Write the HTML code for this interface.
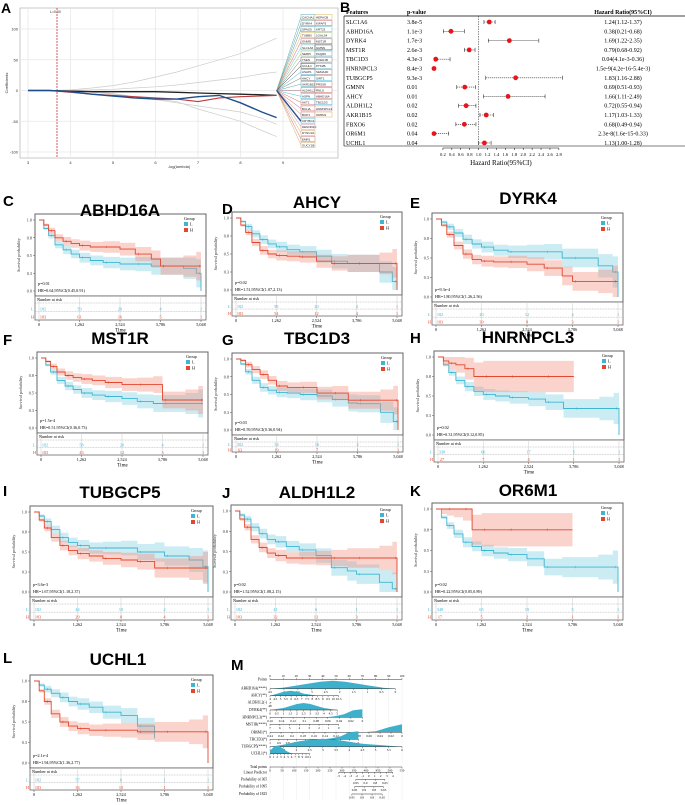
<!DOCTYPE html>
<html><head><meta charset="utf-8">
<style>
html,body{margin:0;padding:0;background:#fff;}
svg{display:block;font-family:"Liberation Sans",Arial,sans-serif;}
.serif{font-family:"Liberation Serif","Times New Roman",serif;}
</style></head>
<body>
<svg id="fig" width="685" height="805" viewBox="0 0 685 805" xmlns="http://www.w3.org/2000/svg"></svg>
<script>
// ---------------- DATA ----------------
const kmTimes = [0,150,300,500,750,1000,1262,1600,2000,2524,3000,3500,3786,4500,4900,5048];
const kmTickLabels = ["0","1,262","2,524","3,786","5,048"];
const kmTickValues = [0,1262,2524,3786,5048];
const kmYTicks = [1.0,0.75,0.5,0.25,0.0];
const kmYTickLabels = ["1.0","0.8","0.5","0.3","0.0"];

const abhd16aH = [1,.93,.85,.75,.70,.67,.64,.62,.62,.59,.52,.45,.35,.35,.35,.35];
const abhd16aL = [1,.88,.78,.65,.58,.52,.47,.43,.40,.38,.38,.35,.35,.32,.25,0];
const ahcyH = [1,.9,.8,.66,.55,.50,.48,.47,.46,.40,.37,.37,.37,.37,.37,0];
const ahcyL = [1,.95,.88,.78,.70,.64,.60,.56,.53,.47,.40,.37,.37,.25,.12,.05];
const dyrk4H = [1,.92,.8,.66,.55,.48,.46,.45,.45,.42,.37,.27,.2,.2,.2,.2];
const dyrk4L = [1,.96,.9,.82,.74,.68,.64,.6,.58,.58,.58,.5,.5,.4,.32,0];
const mst1rH = [1,.95,.88,.8,.75,.72,.70,.68,.65,.62,.62,.62,.40,.40,.40,.40];
const mst1rL = [1,.9,.8,.68,.6,.55,.5,.47,.45,.42,.38,.35,.35,.35,.35,.35];
const tbc1d3H = [1,.98,.92,.85,.78,.70,.62,.60,.60,.52,.52,.42,.42,.42,.42,0];
const tbc1d3L = [1,.93,.82,.7,.6,.56,.53,.52,.5,.48,.43,.38,.37,.25,.12,.07];
const hnrnpcl3H = [1,.95,.92,.9,.85,.75,.75,.75,.75,.75,.75,.75,.75,null,null,null];
const hnrnpcl3L = [1,.9,.8,.7,.62,.56,.52,.5,.48,.46,.42,.34,.34,.34,.34,0];
const tubgcp5H = [1,.9,.8,.68,.58,.52,.48,.45,.42,.40,.38,.30,.30,.30,.30,.30];
const tubgcp5L = [1,.95,.88,.78,.68,.62,.58,.55,.55,.55,.50,.50,.45,.40,.32,0];
const aldh1l2H = [1,.9,.8,.65,.55,.48,.45,.42,.42,.42,.42,.42,.42,.42,.42,0];
const aldh1l2L = [1,.95,.9,.8,.72,.65,.62,.56,.52,.45,.30,.26,.22,.12,.04,0];
const or6m1H = [1,1,1,1,1,.75,.75,.75,.75,.75,.75,.75,.75,null,null,null];
const or6m1L = [1,.9,.8,.7,.6,.55,.5,.47,.45,.4,.3,.3,.3,.3,.3,0];
const uchl1H = [1,.88,.75,.6,.5,.45,.42,.4,.4,.4,.38,.38,.38,.38,.38,0];
const uchl1L = [1,.95,.9,.85,.8,.75,.72,.68,.62,.58,.45,.3,null,null,null,null];
const ciHalfNarrow = [0,.02,.04,.05,.06,.06,.07,.07,.08,.09,.1,.12,.12,.15,.2,.25];
const ciHalfWide = [0,.06,.08,.1,.14,.18,.2,.2,.2,.2,.2,.2,.2,.2,.2,.2];

// forest plot
const forestGenes = ["SLC1A6","ABHD16A","DYRK4","MST1R","TBC1D3","HNRNPCL3","TUBGCP5","GMNN","AHCY","ALDH1L2","AKR1B15","FBXO6","OR6M1","UCHL1"];
const forestP = ["3.8e-5","1.1e-3","1.7e-3","2.6e-3","4.3e-3","8.4e-3","9.3e-3","0.01","0.01","0.02","0.02","0.02","0.04","0.04"];
const forestHR = [1.24,0.38,1.69,0.79,0.04,0.0,1.83,0.69,1.66,0.72,1.17,0.68,0.0,1.13];
const forestLo = [1.12,0.21,1.22,0.68,0.004,0.0,1.16,0.51,1.11,0.55,1.03,0.49,0.0,1.00];
const forestHi = [1.37,0.68,2.35,0.92,0.36,0.005,2.88,0.93,2.49,0.94,1.33,0.94,0.33,1.28];
const forestText = ["1.24(1.12-1.37)","0.38(0.21-0.68)","1.69(1.22-2.35)","0.79(0.68-0.92)","0.04(4.1e-3-0.36)","1.5e-9(4.2e-16-5.4e-3)","1.83(1.16-2.88)","0.69(0.51-0.93)","1.66(1.11-2.49)","0.72(0.55-0.94)","1.17(1.03-1.33)","0.68(0.49-0.94)","2.3e-8(1.6e-15-0.33)","1.13(1.00-1.28)"];
const forestTicks = [0.2,0.4,0.6,0.8,1.0,1.2,1.4,1.6,1.8,2.0,2.2,2.4,2.6,2.8];

// lasso
const lassoX = [3,3.5,4,4.5,5,5.5,6,6.5,7,7.5,8,8.5,8.85];
const lassoBlue = [0,0,-2,-6,-9,-12,-14,-14,-10,-8,-20,-35,-44];
const lassoRed = [0,0,-3,-6,-8,-10,-12,-14,-18,-12,-10,-9,-8];
const lassoBlack = [0,0,-1,-2,-2,-2,-2,-3,-4,-5,-6,-7,-8];
const lassoGrayUp1 = [0,0,1,4,8,14,22,30,40,50,60,75,85];
const lassoGrayUp2 = [0,0,0,1,2,4,6,9,13,17,21,27,30];
const lassoGrayDn1 = [0,0,0,-2,-5,-10,-14,-18,-30,-40,-50,-65,-75];
const lassoGrayDn2 = [0,0,-1,-3,-6,-10,-15,-20,-25,-30,-35,-45,-55];
const lassoXTicks = [3,4,5,6,7,8,9];
const lassoYTicks = [100,50,0,-50,-100];
const lassoLabelsLeft = ["CACNA1","DYRK4","SPAG5","TUBB3","GNMD","SLC1A6","SERPI","TSEN","UCHL1","ASAP1","AHCY","AKR1B15","ALDH1L2","ASPN","AKT1","BCL2L","BOP1","CRYBG3","DENND2C","DYNC1I1","EMR1","GUCY1B"];
const lassoLabelsRight = ["HEPACB","KIFAP3","KRT23","LGALS4","MST1R","GMNN","PAQR6","PCED1B","PTK2B","SEMA4D","SIRT1","PRSS8","RNLS","ABHD16A","TBC1D3","HNRNPCL3","OR6M1","","","","",""];
const lassoLabelColors = ["#6ab","#6a9","#59b","#db5","#c66","#6bc","#9b7","#777","#333","#4ac","#777","#5ab","#a77","#4bd","#c77","#c66","#c77","#4ac","#c9a","#da6","#c77","#da6"];

// nomogram
const nomoRows = ["Points","ABHD16A(****)","AHCY(**)","ALDH1L2(-)","DYRK4(**)","HNRNPCL3(**)","MST1R(****)","OR6M1(*)","TBC1D3(*)","TUBGCP5(****)","UCHL1(*)","Total points","Linear Predictor","Probability of 365","Probability of 1095","Probability of 1825"];
const nomoTickLabels = [
 ["0","10","20","30","40","50","60","70","80","90","100"],
 ["4.5","4","3.5","3","2.5","2","1.5","1","0.5","0"],
 ["4","4.5","5","5.5","6","6.5","7","7.5","8","8.5","9","9.5","10","10.5"],
 ["48"],
 ["0","0.5","1","1.5","2","2.5","3","3.5","4","4.5","5"],
 ["0.16","0.14","0.12","0.1","0.08","0.06","0.04","0.02","0"],
 ["7","6","5","4","3","2","1","0"],
 ["0.24","0.22","0.2","0.18","0.16","0.14","0.12","0.1","0.08","0.06","0.04","0.02","0"],
 ["1","0.9","0.8","0.7","0.6","0.5","0.4","0.3","0.2","0.1","0"],
 ["1","1.5","2","2.5","3","3.5","4","4.5","5","5.5","6"],
 ["0","1","2","3","4","5","6","7","8","9","10","11"],
 ["0","50","100","150","200","250","300","350","400","450","500","550"],
 ["-5","-4","-3","-2","-1","0","1","2","3","4"],
 ["0.95","0.9","0.8","0.65"],
 ["0.95","0.9","0.8","0.65"],
 ["0.95","0.9","0.8","0.65"]];
const nomoStartPts = [0,0,0,0,0,0,0,0,0,0,0,0,52,65,64,62];
const nomoEndPts = [100,95,52,1,51,70,52,100,67,100,30,100,93,87,86,85];
const nomoHumps = [null,[0,1,3,5,7,8,7,5,3,1,0],[0,2,4,5,4,2,1,0,0,0,0],null,[0,1,2,4,6,7,6,4,2,1,0],[0,0,0,0,0,0,0,1,3,7,8],null,[0,0,0,0,0,0,0,0,1,5,8],[0,0,0,0,0,0,0,1,3,7,8],[0,2,5,7,8,7,5,3,2,1,0],[3,7,8,6,3,1,0,0,0,0,0]];

// ---------------- HELPERS ----------------
const NS='http://www.w3.org/2000/svg';
const svg=document.getElementById('fig');
function el(tag,attrs,parent,text){const e=document.createElementNS(NS,tag);for(const k in attrs)e.setAttribute(k,attrs[k]);if(text!=null)e.textContent=text;(parent||svg).appendChild(e);return e;}
const CY='#3fb5d1', RD='#e2482f';

// ---------------- PANEL A: LASSO ----------------
(function(){
 const g=el('g',{});
 
 
 const L=el('text',{x:1,y:13,'font-size':14,'font-weight':'bold'},g,'A');
 
 
 const x0=20,x1=338,yt=8,yb=158;
 const sx=v=>28+(v-3)*42.5, sy=v=>90.5-v*0.615;
 el('rect',{x:x0,y:yt,width:x1-x0,height:yb-yt,fill:'#fff',stroke:'#bbb','stroke-width':0.8},g);
 lassoXTicks.forEach(t=>{el('line',{x1:sx(t),x2:sx(t),y1:yt,y2:yb,stroke:'#e6e6e6','stroke-width':0.7},g);
  el('text',{x:sx(t),y:yb+6,'font-size':4,'text-anchor':'middle',fill:'#333'},g,String(t));});
 lassoYTicks.forEach(t=>{el('line',{x1:x0,x2:x1,y1:sy(t),y2:sy(t),stroke:'#e6e6e6','stroke-width':0.7},g);
  el('text',{x:x0-2,y:sy(t)+1.5,'font-size':4,'text-anchor':'end',fill:'#333'},g,String(t));});
 el('text',{x:(x0+x1)/2,y:yb+10,'font-size':4,'text-anchor':'middle',fill:'#333'},g,'-log(lambda)');
 el('text',{x:8,y:(yt+yb)/2,'font-size':4,'text-anchor':'middle',fill:'#333',transform:`rotate(-90 8 ${(yt+yb)/2})`},g,'Coefficients');
 const vl=el('line',{x1:57,x2:57,y1:yt,y2:yb,stroke:'#c33','stroke-width':0.8,'stroke-dasharray':'2,1'},g);
 
 
 el('text',{x:50,y:yt+5,'font-size':3.5,fill:'#333'},g,'L=0.00');
 const fx=sx(8.85), fy=sy(0);
 lassoLabelsLeft.forEach((lab,i)=>{
  const y=17+i*6.1;
  el('line',{x1:fx,y1:fy,x2:301,y2:y,stroke:lassoLabelColors[i],'stroke-width':0.5},g);
  el('rect',{x:301,y:y-2.6,width:14,height:5,fill:'#fff',stroke:lassoLabelColors[i],'stroke-width':0.5},g);
  el('text',{x:302,y:y+1.3,'font-size':3,fill:'#222'},g,lab);
  if(lassoLabelsRight[i]){el('rect',{x:315,y:y-2.6,width:17,height:5,fill:'#fff',stroke:lassoLabelColors[(i+3)%22],'stroke-width':0.5},g);
  el('text',{x:316,y:y+1.3,'font-size':3,fill:'#222'},g,lassoLabelsRight[i]);}
 });
 function line(arr,col,w,name){const d=arr.map((v,i)=>(i?'L':'M')+sx(lassoX[i]).toFixed(1)+' '+sy(v).toFixed(1)).join(' ');
  const p=el('path',{d,fill:'none',stroke:col,'stroke-width':w},g);
  
  }
 line(lassoGrayUp1,'#ccc',0.7,'coef-path-gray-1');
 line(lassoGrayUp2,'#ccc',0.7,'coef-path-gray-2');
 line(lassoGrayDn1,'#ccc',0.7,'coef-path-gray-3');
 line(lassoGrayDn2,'#ccc',0.7,'coef-path-gray-4');
 line(lassoBlack,'#222',1.3,'coef-path-black');
 line(lassoRed,'#c0393b',1.1,'coef-path-red');
 line(lassoBlue,'#1f4e8c',1.4,'coef-path-blue');
 el('line',{x1:fx,y1:fy,x2:301,y2:sy(-50),stroke:'#1f4e8c','stroke-width':1.4},g);
})();

// ---------------- PANEL B: FOREST ----------------
(function(){
 const g=el('g',{});
 
 
 const L=el('text',{x:340,y:12,'font-size':14,'font-weight':'bold'},g,'B');
 
 
 const sx=v=>434+v*44.6;
 const hdr=[['Features',346],['p-value',407]];
 hdr.forEach(h=>el('text',{x:h[1],y:14,'font-size':6,'font-weight':'bold',class:'serif'},g,h[0]));
 el('text',{x:623,y:14,'font-size':6,'font-weight':'bold','text-anchor':'middle',class:'serif'},g,'Hazard Ratio(95%CI)');
 el('line',{x1:344,x2:685,y1:16,y2:16,stroke:'#000','stroke-width':0.8},g);
 el('line',{x1:344,x2:344,y1:16,y2:146,stroke:'#000','stroke-width':0.6},g);
 el('line',{x1:344,x2:685,y1:146,y2:146,stroke:'#000','stroke-width':0.6},g);
 el('line',{x1:sx(1),x2:sx(1),y1:16,y2:146,stroke:'#444','stroke-width':0.6,'stroke-dasharray':'1.5,1'},g);
 forestGenes.forEach((gn,i)=>{
  const y=22+i*9.3;
  el('text',{x:346,y:y+2,'font-size':6,class:'serif'},g,gn);
  el('text',{x:407,y:y+2,'font-size':6,class:'serif'},g,forestP[i]);
  el('text',{x:623,y:y+2,'font-size':6,'text-anchor':'middle',class:'serif'},g,forestText[i]);
  const a=sx(forestLo[i]),b=sx(forestHi[i]);
  const ci=el('line',{x1:a,x2:b,y1:y,y2:y,stroke:'#333','stroke-width':0.6,'stroke-dasharray':'1.2,0.8'},g);
  
  
  el('line',{x1:a,x2:a,y1:y-2,y2:y+2,stroke:'#333','stroke-width':0.6},g);
  el('line',{x1:b,x2:b,y1:y-2,y2:y+2,stroke:'#333','stroke-width':0.6},g);
  const d=el('circle',{cx:sx(forestHR[i]),cy:y,r:2.4,fill:'#e8141b'},g);
  
  
 });
 el('line',{x1:sx(0.2),x2:sx(2.8),y1:148,y2:148,stroke:'#000','stroke-width':0.5},g);
 forestTicks.forEach(t=>{el('line',{x1:sx(t),x2:sx(t),y1:148,y2:150,stroke:'#000','stroke-width':0.5},g);
  el('text',{x:sx(t),y:156,'font-size':4.6,'text-anchor':'middle',class:'serif'},g,t.toFixed(1));});
 const xt=el('text',{x:sx(1.5),y:165,'font-size':7,'text-anchor':'middle',class:'serif'},g,'Hazard Ratio(95%CI)');
 
 
})();

// ---------------- KM PANELS ----------------
const kmPanels=[
 {letter:'C',title:'ABHD16A',lx:3,ly:206,tx:120,ty:216,x0:35,x1:206,yt:214,yb:296,yr:320,H:abhd16aH,L:abhd16aL,p:'p=0.01',hr:'HR=0.64,95%CI(0.45,0.91)',nL:['182','59','20','4','1'],nH:['183','61','16','5','1']},
 {letter:'D',title:'AHCY',lx:222,ly:214,tx:317,ty:208,x0:232,x1:402,yt:212,yb:295,yr:316,H:ahcyH,L:ahcyL,p:'p=0.02',hr:'HR=1.51,95%CI(1.07,2.13)',nL:['182','59','20','4','1'],nH:['183','54','12','4','1']},
 {letter:'E',title:'DYRK4',lx:410,ly:208,tx:528,ty:204,x0:432,x1:623,yt:213,yb:302,yr:325,H:dyrk4H,L:dyrk4L,p:'p=9.3e-4',hr:'HR=1.80,95%CI(1.26,2.56)',nL:['182','20','12','4','1'],nH:['183','39','8','3','1']},
 {letter:'F',title:'MST1R',lx:3,ly:345,tx:120,ty:344,x0:37,x1:208,yt:352,yb:433,yr:455,H:mst1rH,L:mst1rL,p:'p=1.5e-4',hr:'HR=0.51,95%CI(0.36,0.73)',nL:['182','58','20','4','1'],nH:['183','43','12','3','1']},
 {letter:'G',title:'TBC1D3',lx:222,ly:345,tx:317,ty:344,x0:232,x1:403,yt:353,yb:435,yr:452,H:tbc1d3H,L:tbc1d3L,p:'p=0.03',hr:'HR=0.59,95%CI(0.36,0.94)',nL:['302','54','16','4','1'],nH:['63','19','7','1','1']},
 {letter:'H',title:'HNRNPCL3',lx:410,ly:343,tx:528,ty:343,x0:434,x1:624,yt:351,yb:440,yr:462,H:hnrnpcl3H,L:hnrnpcl3L,p:'p=0.02',hr:'HR=0.31,95%CI(0.12,0.85)',nL:['338','66','17','5','1'],nH:['27','7','4','1','1'],wideH:true},
 {letter:'I',title:'TUBGCP5',lx:3,ly:496,tx:120,ty:498,x0:30,x1:213,yt:506,yb:597,yr:620,H:tubgcp5H,L:tubgcp5L,p:'p=3.6e-3',hr:'HR=1.67,95%CI(1.18,2.37)',nL:['182','44','10','2','1'],nH:['183','29','8','4','1']},
 {letter:'J',title:'ALDH1L2',lx:222,ly:498,tx:317,ty:498,x0:231,x1:402,yt:505,yb:597,yr:620,H:aldh1l2H,L:aldh1l2L,p:'p=0.02',hr:'HR=1.52,95%CI(1.08,2.15)',nL:['182','41','6','1','1'],nH:['183','32','13','3','1']},
 {letter:'K',title:'OR6M1',lx:410,ly:496,tx:528,ty:496,x0:432,x1:623,yt:503,yb:597,yr:620,H:or6m1H,L:or6m1L,p:'p=0.02',hr:'HR=0.22,95%CI(0.05,0.89)',nL:['348','65','19','5','1'],nH:['17','5','2','1','1'],wideH:true},
 {letter:'L',title:'UCHL1',lx:3,ly:663,tx:118,ty:665,x0:30,x1:213,yt:675,yb:768,yr:790,H:uchl1H,L:uchl1L,p:'p=2.1e-4',hr:'HR=1.94,95%CI(1.36,2.77)',nL:['182','57','6','1','1'],nH:['183','36','10','1','1']}
];

kmPanels.forEach(P=>{
 const g=el('g',{});
 
 
 const lt=el('text',{x:P.lx,y:P.ly,'font-size':15,'font-weight':'bold'},g,P.letter);
 
 
 const dx0=P.x0+4, dx1=P.x1-5, dy1=P.yt+6, dy0=P.yb-5;
 const sx=t=>dx0+t/5048*(dx1-dx0), sy=v=>dy0-v*(dy0-dy1);
 el('rect',{x:P.x0,y:P.yt,width:P.x1-P.x0,height:P.yb-P.yt,fill:'#fff',stroke:'#666','stroke-width':1},g);
 const tt=el('text',{x:P.tx,y:P.ty,'font-size':17,'font-weight':'bold','text-anchor':'middle'},g,P.title);
 
 
 kmYTicks.forEach((t,i)=>{el('line',{x1:P.x0-2,x2:P.x0,y1:sy(t),y2:sy(t),stroke:'#555','stroke-width':0.5},g);
  el('text',{x:P.x0-3,y:sy(t)+1.5,'font-size':4.2,'text-anchor':'end',fill:'#333',class:'serif'},g,kmYTickLabels[i]);});
 const ym=(P.yt+P.yb)/2;
 el('text',{x:P.x0-15,y:ym,'font-size':4.2,'text-anchor':'middle',fill:'#333',class:'serif',transform:`rotate(-90 ${P.x0-15} ${ym})`},g,'Survival probability');
 function series(arr,col,fill,ci,name){
  let n=arr.findIndex(v=>v===null); if(n<0)n=arr.length;
  let up='',lo=[];
  for(let i=0;i<n;i++){
   const u=Math.min(1,arr[i]+ci[i]), l=Math.max(0,arr[i]-ci[i]);
   const xa=sx(kmTimes[i]).toFixed(1), xb=(i+1<n?sx(kmTimes[i+1]):sx(kmTimes[i])).toFixed(1);
   up+=(i?'L':'M')+xa+' '+sy(u).toFixed(1)+' L'+xb+' '+sy(u).toFixed(1)+' ';
   lo.unshift('L'+xb+' '+sy(l).toFixed(1)+' L'+xa+' '+sy(l).toFixed(1));
  }
  const b=el('path',{d:up+lo.join(' ')+' Z',fill:fill,stroke:'none'},g);
  
  
  let d='M'+sx(kmTimes[0]).toFixed(1)+' '+sy(arr[0]).toFixed(1);
  for(let i=1;i<n;i++){d+=' H'+sx(kmTimes[i]).toFixed(1)+' V'+sy(arr[i]).toFixed(1);}
  const p=el('path',{d,fill:'none',stroke:col,'stroke-width':0.9},g);
  
  
  for(let i=2;i<n-1;i+=2){el('path',{d:`M${(sx(kmTimes[i])+3).toFixed(1)} ${(sy(arr[i])-1.2).toFixed(1)} v2.4`,stroke:col,'stroke-width':0.5},g);}
 }
 series(P.L,CY,'rgba(120,205,225,0.38)',ciHalfNarrow,'group-l');
 series(P.H,RD,'rgba(242,140,120,0.38)',P.wideH?ciHalfWide:ciHalfNarrow,'group-h');
 const lgx=P.x1-22, lgy=P.yt+6;
 const lg=el('g',{},g);
 
 
 el('text',{x:lgx,y:lgy,'font-size':4.2,class:'serif'},lg,'Group');
 el('rect',{x:lgx,y:lgy+2,width:4,height:4,fill:CY},lg);
 el('text',{x:lgx+6,y:lgy+5.5,'font-size':4.2,class:'serif'},lg,'L');
 el('rect',{x:lgx,y:lgy+8,width:4,height:4,fill:RD},lg);
 el('text',{x:lgx+6,y:lgy+11.5,'font-size':4.2,class:'serif'},lg,'H');
 el('text',{x:P.x0+3,y:P.yb-11,'font-size':4.2,class:'serif'},g,P.p);
 el('text',{x:P.x0+3,y:P.yb-4,'font-size':4.2,class:'serif'},g,P.hr);
 const rt=el('g',{},g);
 
 
 el('rect',{x:P.x0,y:P.yb,width:P.x1-P.x0,height:P.yr-P.yb,fill:'#fff',stroke:'#666','stroke-width':0.8},rt);
 kmTickValues.forEach(t=>el('line',{x1:sx(t),x2:sx(t),y1:P.yb,y2:P.yr,stroke:'#ccc','stroke-width':0.5},rt));
 const h=P.yr-P.yb, r1=P.yb+h*0.55, r2=P.yb+h*0.88;
 el('text',{x:P.x0+2,y:P.yb+5,'font-size':4.2,class:'serif'},rt,'Number at risk');
 el('line',{x1:P.x0,x2:P.x1,y1:P.yb+7,y2:P.yb+7,stroke:'#999','stroke-width':0.4,'stroke-dasharray':'1,0.6'},rt);
 el('line',{x1:P.x0,x2:P.x1,y1:r1+2.5,y2:r1+2.5,stroke:'#999','stroke-width':0.4,'stroke-dasharray':'1,0.6'},rt);
 el('text',{x:P.x0-4,y:r1+1.5,'font-size':4.2,fill:CY,class:'serif'},rt,'L');
 el('text',{x:P.x0-4,y:r2+1.5,'font-size':4.2,fill:RD,class:'serif'},rt,'H');
 kmTickValues.forEach((t,i)=>{
  el('text',{x:sx(t)+(i===0?4:0),y:r1+1.5,'font-size':4.2,fill:CY,'text-anchor':'middle',class:'serif'},rt,P.nL[i]);
  el('text',{x:sx(t)+(i===0?4:0),y:r2+1.5,'font-size':4.2,fill:RD,'text-anchor':'middle',class:'serif'},rt,P.nH[i]);
  el('line',{x1:sx(t),x2:sx(t),y1:P.yr,y2:P.yr+2,stroke:'#555','stroke-width':0.5},g);
  el('text',{x:sx(t),y:P.yr+6,'font-size':4.2,'text-anchor':'middle',class:'serif'},g,kmTickLabels[i]);
 });
 el('text',{x:(P.x0+P.x1)/2,y:P.yr+11.5,'font-size':5,'text-anchor':'middle',class:'serif'},g,'Time');
});

// ---------------- PANEL M: NOMOGRAM ----------------
(function(){
 const g=el('g',{});
 
 
 const L=el('text',{x:231,y:670,'font-size':15,'font-weight':'bold'},g,'M');
 
 
 const px=v=>270+v*1.32;
 const rowY=[679.5,688.7,695.7,702.7,710,717.3,724.3,732.3,739.3,746.7,753.7,767,772.3,779.3,786.7,794];
 for(let k=0;k<=10;k++)el('line',{x1:px(k*10),x2:px(k*10),y1:680,y2:800,stroke:'#eee','stroke-width':0.5},g);
 nomoRows.forEach((name,i)=>{
  const y=rowY[i], a=px(nomoStartPts[i]), b=px(nomoEndPts[i]);
  el('text',{x:267,y:y+1,'font-size':3.6,'text-anchor':'end',class:'serif'},g,name);
  const hump=nomoHumps[i];
  if(hump){let d='M'+a+' '+y;hump.forEach((v,j)=>{d+=' L'+(a+(b-a)*j/(hump.length-1)).toFixed(1)+' '+(y-v).toFixed(1);});d+=' L'+b+' '+y+' Z';
   const hp=el('path',{d,fill:'#3fb0cc',stroke:'none'},g);
   
   }
  el('line',{x1:a,x2:b,y1:y,y2:y,stroke:'#333','stroke-width':0.5},g);
  const labs=nomoTickLabels[i], n=labs.length;
  labs.forEach((lb,j)=>{const x=n>1?a+(b-a)*j/(n-1):a;
   const up=(i===0);
   el('line',{x1:x,x2:x,y1:y,y2:up?y-1.5:y+1.5,stroke:'#333','stroke-width':0.4},g);
   el('text',{x:x,y:up?y-2.5:y+4.5,'font-size':3.2,'text-anchor':'middle',class:'serif'},g,lb);});
 });
})();
</script>
</body></html>
